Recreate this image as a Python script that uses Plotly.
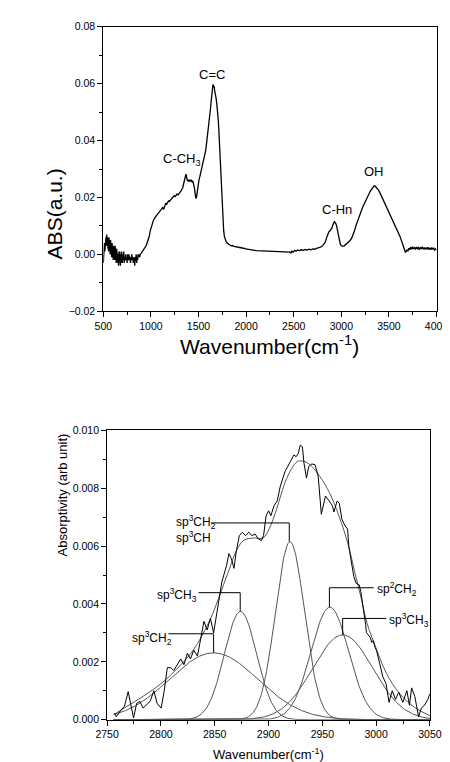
import numpy as np
import plotly.graph_objects as go

# ---------------- top panel: FTIR spectrum ----------------
top_wn = [500, 504, 508, 512, 516, 520, 524, 528, 532, 536, 540, 544, 548, 552, 556, 560, 564, 568, 572, 576,
          580, 584, 588, 592, 596, 600, 604, 608, 612, 616, 620, 624, 628, 632, 636, 640, 644, 648, 652, 656,
          660, 664, 668, 672, 676, 680, 684, 688, 692, 696, 700, 705, 710, 715, 720, 725, 730, 735, 740, 745,
          750, 755, 760, 765, 770, 775, 780, 785, 790, 795, 800, 805, 810, 815, 820, 825, 830, 835, 840, 845,
          850, 855, 860, 865, 870, 875, 880, 890, 900, 910, 920, 935, 950, 965, 980, 995, 1010, 1025, 1040, 1055,
          1070, 1085, 1100, 1115, 1125, 1135, 1145, 1155, 1165, 1175, 1185, 1195, 1205, 1215, 1225, 1235, 1245, 1255, 1265, 1275,
          1285, 1295, 1305, 1315, 1325, 1335, 1345, 1355, 1368, 1376, 1383, 1390, 1398, 1406, 1414, 1422, 1430, 1440, 1450, 1458,
          1466, 1474, 1480, 1488, 1496, 1505, 1515, 1525, 1535, 1545, 1555, 1565, 1575, 1585, 1595, 1605, 1615, 1625, 1635, 1645,
          1652, 1658, 1664, 1670, 1676, 1684, 1692, 1700, 1708, 1716, 1724, 1732, 1740, 1748, 1756, 1764, 1772, 1780, 1790, 1800,
          1815, 1830, 1845, 1860, 1875, 1890, 1905, 1920, 1935, 1950, 1965, 1980, 1995, 2010, 2030, 2050, 2070, 2090, 2110, 2460,
          2470, 2480, 2495, 2510, 2525, 2540, 2560, 2580, 2600, 2620, 2640, 2660, 2680, 2700, 2720, 2740, 2760, 2780, 2800, 2815,
          2830, 2845, 2858, 2868, 2878, 2890, 2900, 2910, 2920, 2928, 2935, 2943, 2950, 2958, 2965, 2972, 2980, 2990, 3000, 3015,
          3030, 3050, 3070, 3090, 3110, 3125, 3140, 3155, 3170, 3185, 3200, 3215, 3230, 3245, 3260, 3275, 3290, 3305, 3320, 3333,
          3345, 3355, 3365, 3378, 3390, 3405, 3420, 3435, 3450, 3465, 3480, 3495, 3510, 3525, 3540, 3555, 3570, 3585, 3600, 3615,
          3630, 3645, 3660, 3672, 3680, 3690, 3700, 3710, 3720, 3730, 3740, 3750, 3760, 3770, 3780, 3790, 3800, 3810, 3820, 3830,
          3840, 3850, 3860, 3870, 3880, 3890, 3900, 3910, 3920, 3930, 3940, 3950, 3960, 3970, 3980, 3990, 4000]
top_abs = [-0.003, 0.002, 0.000, 0.004, 0.001, 0.005, 0.002, 0.006, 0.003, 0.007, 0.003, 0.006, 0.002, 0.005, 0.001, 0.006, 0.002, 0.004, 0.000, 0.005,
           0.001, 0.004, -0.001, 0.004, 0.000, 0.003, -0.002, 0.003, -0.001, 0.002, -0.002, 0.003, -0.001, 0.001, -0.003, 0.002, -0.002, 0.001, -0.003, 0.000,
           -0.004, 0.001, -0.003, 0.001, -0.002, -0.004, 0.000, -0.003, 0.001, -0.002, -0.003, 0.000, -0.002, 0.001, -0.003, -0.001, -0.002, 0.000, -0.002, -0.001,
           -0.003, 0.000, -0.001, -0.002, 0.000, -0.002, -0.001, -0.003, -0.001, -0.002, 0.000, -0.002, -0.001, -0.003, -0.001, -0.002, -0.004, -0.001, -0.002, 0.000,
           -0.003, -0.001, -0.002, 0.000, -0.001, 0.000, -0.001, 0.000, 0.0005, 0.001, 0.0012, 0.002, 0.003, 0.0045, 0.006, 0.0085, 0.0105, 0.0118, 0.0128, 0.0135,
           0.0142, 0.0148, 0.0155, 0.0160, 0.0165, 0.0158, 0.0172, 0.0180, 0.0176, 0.0185, 0.0188, 0.0186, 0.0193, 0.0195, 0.0199, 0.0201, 0.0206, 0.0203, 0.0210, 0.0212,
           0.0209, 0.0216, 0.0218, 0.0222, 0.0227, 0.0235, 0.0250, 0.0262, 0.0282, 0.0270, 0.0258, 0.0262, 0.0255, 0.0262, 0.0257, 0.0262, 0.0254, 0.0258, 0.0248, 0.0232,
           0.0210, 0.0196, 0.0203, 0.0228, 0.0245, 0.0262, 0.0275, 0.0290, 0.0302, 0.0318, 0.0330, 0.0345, 0.0365, 0.0392, 0.0418, 0.0448, 0.0480, 0.0510, 0.0545, 0.0579,
           0.0598, 0.0588, 0.0592, 0.0575, 0.0568, 0.0550, 0.0530, 0.0505, 0.0470, 0.0420, 0.0360, 0.0290, 0.0225, 0.0165, 0.0120, 0.0085, 0.0062, 0.0052, 0.0045, 0.0040,
           0.0035, 0.0033, 0.0030, 0.0031, 0.0027, 0.0028, 0.0025, 0.0026, 0.0023, 0.0024, 0.0021, 0.0022, 0.0019, 0.0018, 0.0017, 0.0016, 0.0015, 0.0014, 0.0013, 0.0008,
           0.0005, 0.0011, 0.0008, 0.0014, 0.0011, 0.0015, 0.0013, 0.0016, 0.0014, 0.0017, 0.0015, 0.0018, 0.0016, 0.0019, 0.0018, 0.0021, 0.0022, 0.0025, 0.0029, 0.0034,
           0.0042, 0.0058, 0.0072, 0.0078, 0.0082, 0.0086, 0.0092, 0.0102, 0.0112, 0.0116, 0.0110, 0.0108, 0.0100, 0.0088, 0.0072, 0.0056, 0.0044, 0.0035, 0.0030, 0.0028,
           0.0030, 0.0035, 0.0040, 0.0048, 0.0058, 0.0070, 0.0085, 0.0102, 0.0118, 0.0132, 0.0146, 0.0158, 0.0170, 0.0182, 0.0192, 0.0202, 0.0212, 0.0222, 0.0230, 0.0237,
           0.0241, 0.0240, 0.0237, 0.0232, 0.0226, 0.0217, 0.0206, 0.0196, 0.0186, 0.0175, 0.0164, 0.0154, 0.0144, 0.0132, 0.0122, 0.0112, 0.0100, 0.0090, 0.0078, 0.0064,
           0.0050, 0.0032, 0.0018, 0.0008, 0.0010, 0.0015, 0.0012, 0.0022, 0.0016, 0.0026, 0.0018, 0.0027, 0.0019, 0.0025, 0.0017, 0.0026, 0.0020, 0.0024, 0.0016, 0.0025,
           0.0019, 0.0027, 0.0018, 0.0023, 0.0017, 0.0024, 0.0019, 0.0025, 0.0018, 0.0022, 0.0016, 0.0023, 0.0019, 0.0022, 0.0015, 0.0019, 0.0016]

top_label_text = ["C-CH<sub>3</sub>", "C=C", "C-Hn", "OH"]
top_label_wn = [1330, 1645, 2955, 3343]
top_label_abs = [0.0335, 0.0631, 0.0157, 0.0292]

# ---------------- bottom panel: C-H stretch region ----------------
data_wn = [2757, 2758.5, 2763, 2766, 2769.6, 2772, 2774.6, 2777.5, 2780.5, 2783.4, 2786.4, 2789.9, 2793.5, 2796.4, 2800.2,
           2803.1, 2806, 2809, 2812, 2814.9, 2818.4, 2821.4, 2824.6, 2827.5, 2830.5, 2834, 2837, 2840, 2843, 2846, 2849,
           2852.3, 2856.7, 2861.1, 2863.2, 2865.5, 2867.9, 2870, 2872.9, 2875.8, 2878.7, 2881.7, 2884.6, 2887.5, 2890.5,
           2893.4, 2895.4, 2897.8, 2900.1, 2902.2, 2905.1, 2908.1, 2911, 2915.4, 2919.8, 2923.6, 2925.7, 2927.7, 2929.5,
           2931.5, 2933, 2935.3, 2937.4, 2940.3, 2943.3, 2946.2, 2949.1, 2952.9, 2956.4, 2959.4, 2960.8, 2963.8, 2965.8,
           2968.2, 2971.1, 2973.5, 2974.6, 2977, 2979.3, 2981.4, 2984.3, 2985.8, 2988.7, 2990.2, 2991, 2992.2, 2994.6,
           2996, 2997.5, 2999, 3000.4, 3003.4, 3006.3, 3009.2, 3012, 3015, 3018, 3021, 3024.8, 3028.6, 3031, 3033, 3036,
           3039.5, 3042, 3045, 3048, 3050]
data_abs = [0.00023, 0.0001, 0.00034, 0.00045, 0.00097, 0.00057, 0.00006, 0.00057, 0.00063, 0.0004, 0.00051, 0.00063, 0.001, 0.00057, 0.0004,
            0.001, 0.0018, 0.0018, 0.0017, 0.0019, 0.0021, 0.0019, 0.0023, 0.0021, 0.0024, 0.0022, 0.0028, 0.0034, 0.0031, 0.0035, 0.0030,
            0.00375, 0.00477, 0.00534, 0.00574, 0.00557, 0.00523, 0.0058, 0.00636, 0.00648, 0.00636, 0.00648, 0.00636, 0.00642, 0.00625,
            0.00619, 0.00636, 0.00705, 0.00722, 0.00705, 0.00739, 0.00756, 0.00807, 0.00858, 0.00886, 0.00915, 0.00909, 0.0092, 0.00949,
            0.00943, 0.00886, 0.00835, 0.00875, 0.00884, 0.00881, 0.00841, 0.0071, 0.00773, 0.00756, 0.00739, 0.00718, 0.00756, 0.00748,
            0.00693, 0.0067, 0.00659, 0.0060, 0.0055, 0.00494, 0.00472, 0.00466, 0.00443, 0.00375, 0.0033, 0.00301, 0.00295, 0.00284,
            0.00267, 0.00273, 0.0025, 0.00239, 0.00193, 0.00148, 0.00125, 0.0006, 0.0010, 0.0007, 0.00095, 0.0006, 0.0010, 0.0005, 0.0011, 0.0008,
            0.0001, 0.0004, 0.0005, 0.0007, 0.0009]

fit_wn = [2756.8, 2771.5, 2786, 2801, 2815.5, 2830, 2845, 2853.7, 2862.5, 2871, 2877, 2886, 2895, 2900.7, 2906.6,
          2915.4, 2921.3, 2927.2, 2933, 2939, 2947.8, 2956.6, 2965.4, 2974.2, 2980, 2986, 2991.8, 3000.7, 3009.5, 3021.2,
          3036, 3050]
fit_abs = [0.00019, 0.00053, 0.00087, 0.00127, 0.00178, 0.0024, 0.0034, 0.0042, 0.0051, 0.0059, 0.0062, 0.00628, 0.00628, 0.0066, 0.00717,
           0.0082, 0.00866, 0.00893, 0.00893, 0.0088, 0.0084, 0.00785, 0.00705, 0.00603, 0.00512, 0.00422, 0.00331, 0.0024, 0.00161, 0.00093,
           0.00042, 0.00014]

# Gaussian components: centre, height, sigma
peak_center = [2849, 2874, 2920, 2957, 2969]
peak_height = [0.00231, 0.00374, 0.00615, 0.00389, 0.00293]
peak_sigma = [41, 15, 13.5, 17.5, 28]

# bracket labels
brk_text = ["sp<sup>3</sup>CH<sub>2</sub>", "sp<sup>3</sup>CH<sub>3</sub>", "sp<sup>3</sup>CH<sub>2</sub><br>sp<sup>3</sup>CH",
            "sp<sup>2</sup>CH<sub>2</sub>", "sp<sup>3</sup>CH<sub>3</sub>"]
brk_text_wn = [2812, 2835.5, 2812.5, 2999, 3010]
brk_text_abs = [0.00283, 0.0043, 0.0066, 0.00452, 0.00345]
brk_anchor = ["right", "right", "left", "left", "left"]
brk_start_wn = [2807, 2835, 2846.5, 2997.7, 3009.5]
brk_peak_wn = [2849, 2873.7, 2919.3, 2956.6, 2968.9]
brk_level = [0.00297, 0.00439, 0.0068, 0.00456, 0.0035]

FONT = "Liberation Sans, Arial, sans-serif"
W, H = 450, 762

fig = go.Figure()

fig.add_trace(go.Scatter(x=top_wn, y=top_abs, mode="lines",
                         line=dict(color="black", width=1.3), xaxis="x", yaxis="y", showlegend=False))

gx = np.linspace(2756, 3050, 400)
for c, h, s in zip(peak_center, peak_height, peak_sigma):
    fig.add_trace(go.Scatter(x=gx, y=h * np.exp(-(gx - c) ** 2 / (2 * s ** 2)), mode="lines",
                             line=dict(color="#555555", width=1), xaxis="x2", yaxis="y2", showlegend=False))
fig.add_trace(go.Scatter(x=fit_wn, y=fit_abs, mode="lines", line_shape="spline",
                         line=dict(color="#555555", width=1), xaxis="x2", yaxis="y2", showlegend=False))
fig.add_trace(go.Scatter(x=data_wn, y=data_abs, mode="lines",
                         line=dict(color="black", width=1), xaxis="x2", yaxis="y2", showlegend=False))

for i in range(len(brk_text)):
    ph = peak_height[i]
    fig.add_trace(go.Scatter(x=[brk_start_wn[i], brk_peak_wn[i], brk_peak_wn[i]],
                             y=[brk_level[i], brk_level[i], ph], mode="lines",
                             line=dict(color="black", width=1), xaxis="x2", yaxis="y2", showlegend=False))

annotations = []
for t, x, y in zip(top_label_text, top_label_wn, top_label_abs):
    annotations.append(dict(text=t, x=x, y=y, xref="x", yref="y", showarrow=False,
                            font=dict(family=FONT, size=13, color="black")))
for t, x, y, a in zip(brk_text, brk_text_wn, brk_text_abs, brk_anchor):
    annotations.append(dict(text=t, x=x, y=y, xref="x2", yref="y2", showarrow=False, xanchor=a,
                            align="left", font=dict(family=FONT, size=12, color="black")))

# axis titles
annotations += [
    dict(text="ABS(a.u.)", x=22 / W, y=1 - 155 / H, xref="paper", yref="paper", showarrow=False,
         textangle=-90, font=dict(family=FONT, size=21, color="black")),
    dict(text="Wavenumber(cm<sup>-1</sup>)", x=264 / W, y=1 - 336 / H, xref="paper", yref="paper",
         yanchor="middle", showarrow=False, font=dict(family=FONT, size=21, color="black")),
    dict(text="Absorptivity (arb unit)", x=35 / W, y=1 - 553 / H, xref="paper", yref="paper", showarrow=False,
         textangle=-90, font=dict(family=FONT, size=13, color="black")),
    dict(text="Wavenumber(cm<sup>-1</sup>)", x=262 / W, y=0, xref="paper", yref="paper",
         yanchor="bottom", showarrow=False, font=dict(family=FONT, size=13, color="black")),
]

axis_common = dict(showline=True, linecolor="black", linewidth=1, mirror=True, ticks="outside",
                   ticklen=5, tickcolor="black", showgrid=False, zeroline=False,
                   tickfont=dict(family=FONT, size=10.5, color="black"))

fig.update_layout(
    width=W, height=H, margin=dict(l=0, r=0, t=0, b=0),
    paper_bgcolor="white", plot_bgcolor="white", showlegend=False,
    xaxis=dict(domain=[88 / W, 440 / W], range=[500, 4000], dtick=500, tick0=500,
               minor=dict(dtick=250, ticklen=3, ticks="outside", tickcolor="black"),
               anchor="y", **axis_common),
    yaxis=dict(domain=[1 - 302 / H, 1 - 13 / H], range=[-0.02, 0.08], dtick=0.02, tick0=0,
               tickformat=".2f", minor=dict(dtick=0.01, ticklen=3, ticks="outside", tickcolor="black"),
               anchor="x", **axis_common),
    xaxis2=dict(domain=[92 / W, 433 / W], range=[2750, 3050], dtick=50, tick0=2750,
                minor=dict(dtick=25, ticklen=3, ticks="outside", tickcolor="black"),
                anchor="y2", **axis_common),
    yaxis2=dict(domain=[1 - 717 / H, 1 - 423 / H], range=[0, 0.010], dtick=0.002, tick0=0,
                tickformat=".3f", minor=dict(dtick=0.001, ticklen=3, ticks="outside", tickcolor="black"),
                anchor="x2", **axis_common),
    annotations=annotations,
)

fig.write_html("out.html")
